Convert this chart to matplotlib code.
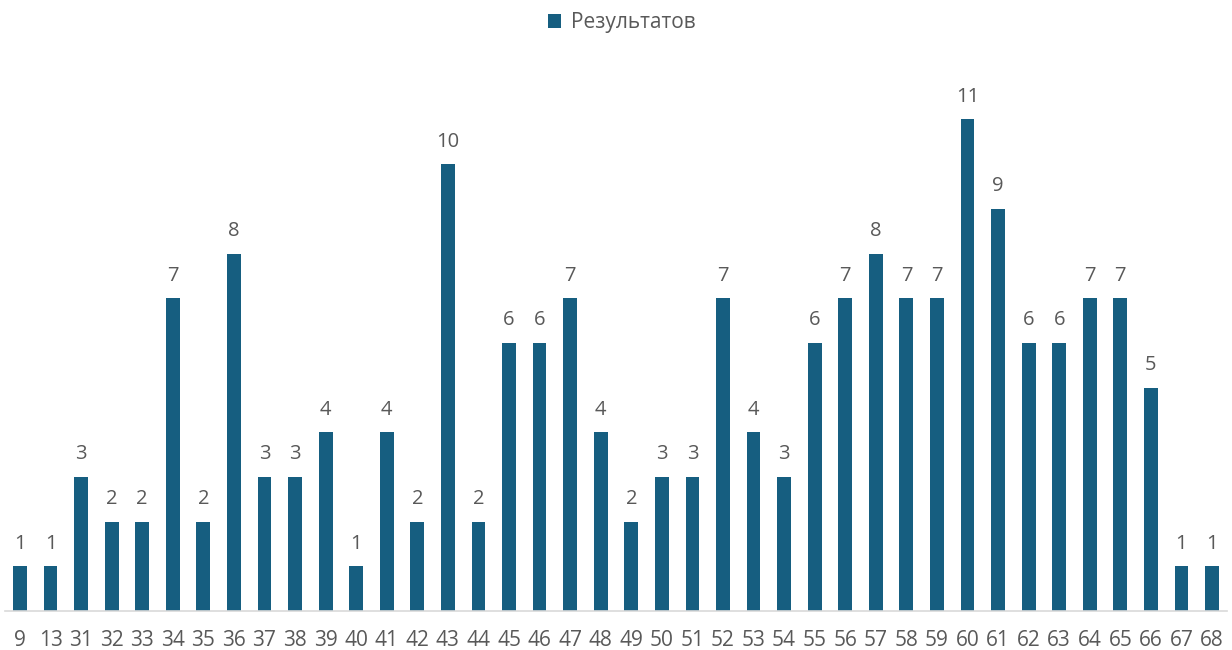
import matplotlib.pyplot as plt

categories = ['9', '13'] + [str(n) for n in range(31, 69)]
results = [1, 1, 3, 2, 2, 7, 2, 8, 3, 3, 4, 1, 4, 2, 10, 2, 6, 6, 7, 4,
           2, 3, 3, 7, 4, 3, 6, 7, 8, 7, 7, 11, 9, 6, 6, 7, 7, 5, 1, 1]

plt.rcParams['font.family'] = ['Open Sans', 'DejaVu Sans']
bar_color = '#165e80'
text_color = '#595959'

fig = plt.figure(figsize=(12.32, 6.5), dpi=100)
ax = fig.add_axes([0.0038, 0.06, 0.9924, 0.825])

x = range(len(categories))
bars = ax.bar(x, results, width=0.45, color=bar_color, label='Результатов')
ax.bar_label(bars, padding=9, fontsize=14.5, color=text_color)

ax.set_xlim(-0.5, len(categories) - 0.5)
ax.set_ylim(0, 12)
ax.set_xticks(list(x))
ax.set_xticklabels(categories, fontsize=15, color=text_color)
ax.tick_params(axis='x', length=0, pad=14)
ax.set_yticks([])
for side in ['top', 'right', 'left']:
    ax.spines[side].set_visible(False)
ax.spines['bottom'].set_color('#d9d9d9')
ax.spines['bottom'].set_linewidth(1.2)

fig.legend(loc='upper center', bbox_to_anchor=(0.505, 1.01), ncol=1, frameon=False,
           fontsize=15, labelcolor=text_color, handlelength=0.6, handleheight=0.6,
           handletextpad=0.5)

plt.savefig('out.png')
